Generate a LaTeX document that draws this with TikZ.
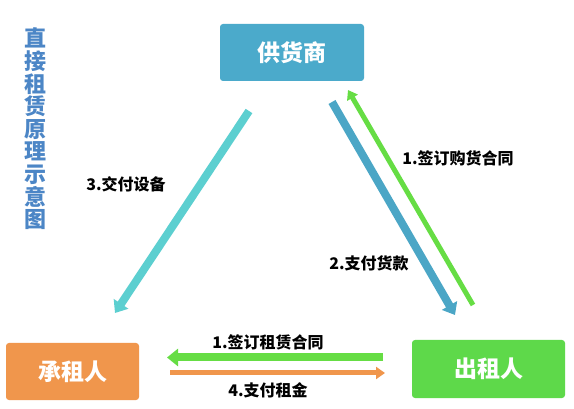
\documentclass[tikz,border=0pt]{standalone}
\usepackage{fontspec}
\setmainfont{Noto Sans CJK SC}
\usetikzlibrary{arrows.meta}
\definecolor{tealbox}{HTML}{4BAACB}
\definecolor{orangebox}{HTML}{F0964C}
\definecolor{greenbox}{HTML}{5ED94A}
\definecolor{turq}{HTML}{5CCFD0}
\definecolor{bluearr}{HTML}{4BA6C6}
\definecolor{greenarr}{HTML}{66DD44}
\definecolor{titleblue}{HTML}{4C86C6}
\tikzset{
  party/.style={rounded corners=3pt, text=white, font=\bfseries\fontsize{23}{23}\selectfont, inner sep=0pt},
  lbl/.style={font=\bfseries\fontsize{16}{16}\selectfont, text=black, inner sep=0pt},
  thickarr/.style={line width=8pt, -{Triangle[width=17pt,length=11pt]}},
  thinarr/.style={line width=5pt, -{Triangle[width=12pt,length=9pt]}}
}
\begin{document}
\begin{tikzpicture}[x=1pt,y=-1pt]
\useasboundingbox (0,0) rectangle (574,409);
\fill[white] (0,0) rectangle (574,409);
% boxes
\node[party, fill=tealbox, minimum width=144pt, minimum height=57pt] (sup) at (292,52.5) {供货商};
\node[party, fill=orangebox, minimum width=133pt, minimum height=57pt] (les) at (72.5,371.5) {承租人};
\node[party, fill=greenbox, minimum width=153pt, minimum height=58pt] (lor) at (488.5,369) {出租人};
% title
\node[text=titleblue, font=\bfseries\fontsize{22}{22.6}\selectfont, align=center, inner sep=0pt] (title) at (35,129)
  {直\\接\\租\\赁\\原\\理\\示\\意\\图};
% coordinates
\coordinate (a3s) at (249,111);
\coordinate (a3e) at (115,313);
\coordinate (a2s) at (332,102);
\coordinate (a2e) at (455,315);
\coordinate (a1s) at (473,305);
\coordinate (a1e) at (348,90);
\coordinate (b1s) at (383,357.5);
\coordinate (b1e) at (167,357.5);
\coordinate (b4s) at (170,373);
\coordinate (b4e) at (385,373);
% arrows
\draw[thickarr, turq] (a3s) -- (a3e);
\draw[thickarr, bluearr] (a2s) -- (a2e);
\draw[thinarr, greenarr] (a1s) -- (a1e);
\draw[thickarr, greenarr] (b1s) -- (b1e);
\draw[thinarr, orangebox] (b4s) -- (b4e);
% labels
\node[lbl] (l3) at (126,184) {3.交付设备};
\node[lbl] (l2) at (369,263) {2.支付货款};
\node[lbl] (l1) at (458,158) {1.签订购货合同};
\node[lbl] (lb1) at (268,342) {1.签订租赁合同};
\node[lbl] (lb4) at (268,390) {4.支付租金};
\end{tikzpicture}
\end{document}
